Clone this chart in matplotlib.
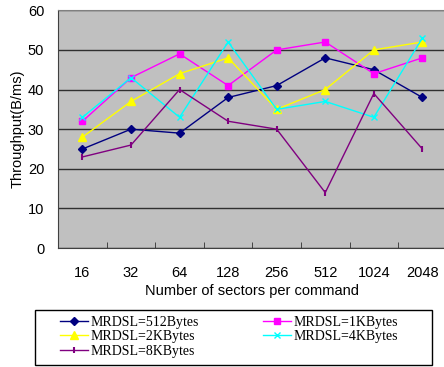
import matplotlib
matplotlib.use("Agg")
import matplotlib.pyplot as plt
from matplotlib.patches import Rectangle
from matplotlib.ticker import FixedLocator

sectors = ["16", "32", "64", "128", "256", "512", "1024", "2048"]
mrdsl_512 = [25, 30, 29, 38, 41, 48, 45, 38]
mrdsl_1k = [32, 43, 49, 41, 50, 52, 44, 48]
mrdsl_2k = [28, 37, 44, 48, 35, 40, 50, 52]
mrdsl_4k = [33, 43, 33, 52, 35, 37, 33, 53]
mrdsl_8k = [23, 26, 40, 32, 30, 14, 39, 25]

plt.rcParams['font.family'] = ['Liberation Sans', 'DejaVu Sans']

fig = plt.figure(figsize=(4.44, 3.67), dpi=100)
ax = fig.add_axes([0.131, 0.324, 0.875, 0.648])
ax.set_facecolor('#c0c0c0')

x = [i + 0.5 for i in range(len(sectors))]
h1, = ax.plot(x, mrdsl_512, color='#000080', marker='D', ms=4, lw=1, label='MRDSL=512Bytes')
h2, = ax.plot(x, mrdsl_1k, color='#ff00ff', marker='s', ms=5, lw=1, label='MRDSL=1KBytes')
h3, = ax.plot(x, mrdsl_2k, color='#ffff00', marker='^', ms=5.5, lw=1, label='MRDSL=2KBytes')
h4, = ax.plot(x, mrdsl_4k, color='#00ffff', marker='x', ms=4, lw=1, label='MRDSL=4KBytes')
h5, = ax.plot(x, mrdsl_8k, color='#800080', marker='|', ms=5, mew=1.5, lw=1, label='MRDSL=8KBytes')

ax.set_xlim(0, len(sectors))
ax.set_ylim(0, 60)
ax.set_yticks(range(0, 61, 10))
ax.yaxis.grid(True, color='#303030', lw=1)
ax.set_axisbelow(True)
ax.set_xticks(x)
ax.set_xticklabels(sectors)
ax.xaxis.set_minor_locator(FixedLocator(range(1, len(sectors))))
ax.tick_params(axis='x', which='major', length=0, pad=13, labelsize=10.5)
ax.tick_params(axis='x', which='minor', length=4, direction='in', color='#303030')
ax.tick_params(axis='y', length=0, pad=10, labelsize=10.5)
for s in ['left', 'bottom']:
    ax.spines[s].set_color('#404040')
for s in ['top', 'right']:
    ax.spines[s].set_color('#808080')

ax.set_ylabel("Throughput(B/ms)", fontsize=10.5, labelpad=2)
ax.set_xlabel("Number of sectors per command", fontsize=10.5, labelpad=3)

# legend box drawn separately, entries placed inside it
fig.patches.append(Rectangle((0.079, 0.006), 0.894, 0.15, transform=fig.transFigure,
                             fill=False, edgecolor='black', lw=1))
leg = fig.legend([h1, h3, h5, h2, h4],
                 [h.get_label() for h in [h1, h3, h5, h2, h4]],
                 ncol=2, loc='upper left', bbox_to_anchor=(0.135, 0.14),
                 frameon=False, borderaxespad=0, borderpad=0,
                 prop={'family': 'Liberation Serif', 'size': 10},
                 handlelength=2.0, labelspacing=0.12, handletextpad=0.2,
                 columnspacing=4.6)

fig.savefig("out.png", dpi=100)
